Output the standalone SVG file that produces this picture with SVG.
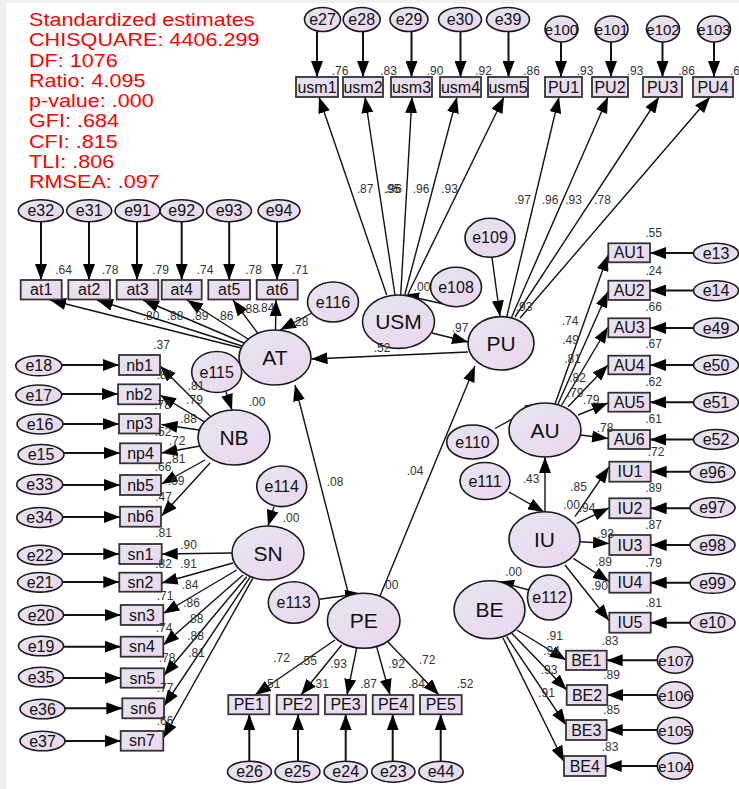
<svg xmlns="http://www.w3.org/2000/svg" width="739" height="789" viewBox="0 0 739 789">
<style>
text{font-family:"Liberation Sans",Arial,sans-serif;fill:#111}
.ob{fill:url(#g);stroke:#333;stroke-width:1.8}
.lv{fill:url(#g);stroke:#1a1a1a;stroke-width:1.6}
.tb{font-size:16px;text-anchor:middle}
.tl{font-size:21px;text-anchor:middle}
.te{font-size:16px;text-anchor:middle}
.ts{font-size:15px;text-anchor:middle}
.n{font-size:12px;text-anchor:middle;fill:#333}
.ce{stroke:#111;stroke-width:2;fill:none;marker-end:url(#ah)}
.cs{stroke:#111;stroke-width:1.4;fill:none;marker-end:url(#ah)}
.fit text{fill:#ff0000;font-size:18px}
</style>
<defs>
<linearGradient id="g" x1="0" y1="0" x2="1" y2="1">
<stop offset="0" stop-color="#e4e6ee"/>
<stop offset="1" stop-color="#edd5f1"/>
</linearGradient>
<marker id="ah" markerUnits="userSpaceOnUse" markerWidth="16" markerHeight="12" viewBox="0 0 16 12" refX="16" refY="6" orient="auto">
<path d="M0,0 L16,6 L0,12 z" fill="#000"/>
</marker>
</defs>
<rect x="0" y="0" width="739" height="789" fill="#efefef"/>
<rect x="6" y="3" width="733" height="786" fill="#ffffff"/>

<g class="fit" transform="translate(29,0) scale(1.2,1)">
<text x="0" y="26">Standardized estimates</text>
<text x="0" y="46.3">CHISQUARE: 4406.299</text>
<text x="0" y="66.6">DF: 1076</text>
<text x="0" y="86.9">Ratio: 4.095</text>
<text x="0" y="107.2">p-value: .000</text>
<text x="0" y="127.5">GFI: .684</text>
<text x="0" y="147.8">CFI: .815</text>
<text x="0" y="168.1">TLI: .806</text>
<text x="0" y="188.4">RMSEA: .097</text>
</g>

<g id="connectors">
<line class="ce" x1="317" y1="31.5" x2="317" y2="77"/>
<line class="ce" x1="363" y1="31.5" x2="363" y2="77"/>
<line class="ce" x1="411.5" y1="31.5" x2="411.5" y2="77"/>
<line class="ce" x1="460.5" y1="31.5" x2="460.5" y2="77"/>
<line class="ce" x1="508.5" y1="31.5" x2="508.5" y2="77"/>
<line class="ce" x1="561" y1="42" x2="561" y2="77"/>
<line class="ce" x1="611" y1="42" x2="611" y2="77"/>
<line class="ce" x1="662.5" y1="42" x2="662.5" y2="77"/>
<line class="ce" x1="714" y1="42" x2="714" y2="77"/>
<line class="ce" x1="41" y1="222" x2="41" y2="280"/>
<line class="ce" x1="89" y1="222" x2="89" y2="280"/>
<line class="ce" x1="137" y1="222" x2="137" y2="280"/>
<line class="ce" x1="181.7" y1="222" x2="181.7" y2="280"/>
<line class="ce" x1="229.2" y1="222" x2="229.2" y2="280"/>
<line class="ce" x1="277" y1="222" x2="277" y2="280"/>
<line class="ce" x1="62" y1="365" x2="119" y2="365"/>
<line class="ce" x1="62" y1="394" x2="118" y2="394"/>
<line class="ce" x1="63" y1="424" x2="119" y2="424"/>
<line class="ce" x1="64" y1="453" x2="120" y2="453"/>
<line class="ce" x1="62.5" y1="485" x2="120" y2="485"/>
<line class="ce" x1="62.5" y1="517" x2="120" y2="517"/>
<line class="ce" x1="62.5" y1="554" x2="119.3" y2="554"/>
<line class="ce" x1="62.5" y1="582" x2="119.3" y2="582"/>
<line class="ce" x1="63.5" y1="615" x2="120.7" y2="615"/>
<line class="ce" x1="63.5" y1="646.7" x2="120.7" y2="646.7"/>
<line class="ce" x1="63.5" y1="678" x2="120.7" y2="678"/>
<line class="ce" x1="65" y1="708.3" x2="122.3" y2="708.3"/>
<line class="ce" x1="65" y1="741" x2="120.7" y2="741"/>
<line class="ce" x1="249.3" y1="761.7" x2="249.3" y2="714.3"/>
<line class="ce" x1="298" y1="761.7" x2="298" y2="714.3"/>
<line class="ce" x1="345.7" y1="761.7" x2="345.7" y2="714.3"/>
<line class="ce" x1="392.7" y1="761.7" x2="392.7" y2="714.3"/>
<line class="ce" x1="440.7" y1="761.7" x2="440.7" y2="714.3"/>
<line class="ce" x1="693.5" y1="253" x2="650" y2="253"/>
<line class="ce" x1="693.5" y1="290.5" x2="650" y2="290.5"/>
<line class="ce" x1="693.5" y1="328" x2="650" y2="328"/>
<line class="ce" x1="693.5" y1="365" x2="650" y2="365"/>
<line class="ce" x1="693.5" y1="402.3" x2="650" y2="402.3"/>
<line class="ce" x1="693.5" y1="439.5" x2="650" y2="439.5"/>
<line class="ce" x1="690" y1="471.7" x2="650.7" y2="471.7"/>
<line class="ce" x1="690" y1="508.3" x2="650.7" y2="508.3"/>
<line class="ce" x1="690" y1="545" x2="650.7" y2="545"/>
<line class="ce" x1="690" y1="582.7" x2="650.7" y2="582.7"/>
<line class="ce" x1="690" y1="622.7" x2="650.7" y2="622.7"/>
<line class="ce" x1="657.3" y1="660.3" x2="606.7" y2="660.3"/>
<line class="ce" x1="657.3" y1="695" x2="607.3" y2="695"/>
<line class="ce" x1="657.3" y1="730" x2="606.7" y2="730"/>
<line class="ce" x1="657.3" y1="766" x2="605.7" y2="766"/>

<line class="cs" x1="386.7" y1="295" x2="319" y2="97"/>
<line class="cs" x1="395" y1="295" x2="365" y2="97"/>
<line class="cs" x1="400.7" y1="295" x2="412" y2="97"/>
<line class="cs" x1="405" y1="294" x2="457" y2="97"/>
<line class="cs" x1="408" y1="294" x2="504" y2="97"/>
<line class="cs" x1="506.7" y1="317" x2="559" y2="97"/>
<line class="cs" x1="511.7" y1="317" x2="608" y2="97"/>
<line class="cs" x1="515" y1="317" x2="659" y2="97"/>
<line class="cs" x1="520" y1="318" x2="710" y2="97"/>
<line class="cs" x1="453" y1="306" x2="403" y2="295"/>
<line class="cs" x1="492" y1="257.3" x2="500" y2="316.5"/>
<line class="cs" x1="432" y1="333" x2="468" y2="342"/>
<line class="cs" x1="468" y1="352" x2="311.5" y2="359"/>
<line class="cs" x1="312" y1="313" x2="280" y2="330"/>
<line class="cs" x1="241" y1="348" x2="50" y2="300"/>
<line class="cs" x1="242" y1="346" x2="97" y2="300"/>
<line class="cs" x1="244" y1="343" x2="143" y2="300"/>
<line class="cs" x1="248" y1="339" x2="187" y2="300"/>
<line class="cs" x1="257.6" y1="333" x2="233" y2="300"/>
<line class="cs" x1="275.5" y1="330" x2="276" y2="300"/>
<line class="cs" x1="226" y1="392" x2="232" y2="410"/>
<line class="cs" x1="210" y1="416" x2="160" y2="366"/>
<line class="cs" x1="204" y1="421.7" x2="160" y2="395"/>
<line class="cs" x1="199.3" y1="430" x2="161.5" y2="424.5"/>
<line class="cs" x1="200" y1="446" x2="161.5" y2="453"/>
<line class="cs" x1="205" y1="460" x2="161.5" y2="484"/>
<line class="cs" x1="210" y1="463" x2="161.5" y2="516"/>
<line class="cs" x1="274" y1="506.5" x2="268" y2="526"/>
<line class="cs" x1="232" y1="553" x2="161.7" y2="554"/>
<line class="cs" x1="233" y1="563" x2="161.7" y2="583"/>
<line class="cs" x1="236.7" y1="570" x2="163.3" y2="613.5"/>
<line class="cs" x1="243" y1="575" x2="163.3" y2="645"/>
<line class="cs" x1="246.7" y1="576.7" x2="164" y2="675.5"/>
<line class="cs" x1="250" y1="577.3" x2="164" y2="706"/>
<line class="cs" x1="253.3" y1="577.3" x2="163.3" y2="738"/>
<line class="cs" x1="349" y1="596" x2="295" y2="385"/>
<line class="cs" x1="380" y1="596" x2="475" y2="366"/>
<line class="cs" x1="319.3" y1="599.3" x2="361" y2="593.5"/>
<line class="cs" x1="335" y1="640" x2="255" y2="695"/>
<line class="cs" x1="341.7" y1="645" x2="301" y2="695"/>
<line class="cs" x1="356.7" y1="648" x2="347" y2="695"/>
<line class="cs" x1="376.7" y1="647" x2="390" y2="695"/>
<line class="cs" x1="388" y1="642" x2="439" y2="695"/>
<line class="cs" x1="495" y1="428.5" x2="541" y2="403"/>
<line class="cs" x1="555" y1="404" x2="608" y2="255"/>
<line class="cs" x1="558" y1="404" x2="608" y2="291.5"/>
<line class="cs" x1="561.7" y1="405" x2="608" y2="327"/>
<line class="cs" x1="568" y1="406.7" x2="608" y2="365"/>
<line class="cs" x1="578" y1="415" x2="608" y2="403"/>
<line class="cs" x1="580.5" y1="435" x2="608" y2="438.5"/>
<line class="cs" x1="509" y1="492" x2="544" y2="512"/>
<line class="cs" x1="545" y1="511.7" x2="545" y2="457"/>
<line class="cs" x1="575" y1="516.7" x2="609" y2="467"/>
<line class="cs" x1="576.7" y1="523.3" x2="609" y2="508"/>
<line class="cs" x1="580" y1="541.7" x2="609" y2="543.5"/>
<line class="cs" x1="573.3" y1="558.3" x2="609" y2="581.5"/>
<line class="cs" x1="565" y1="565" x2="609" y2="620.5"/>
<line class="cs" x1="529" y1="590" x2="498" y2="581.5"/>
<line class="cs" x1="516.7" y1="630" x2="566" y2="660"/>
<line class="cs" x1="511.7" y1="633.3" x2="566.7" y2="690"/>
<line class="cs" x1="506.7" y1="636.7" x2="566" y2="725"/>
<line class="cs" x1="503" y1="638" x2="564" y2="761.7"/>
</g>

<g id="e27"><ellipse class="lv" cx="322.5" cy="19.5" rx="18" ry="12"/><text class="te" x="322.5" y="25">e27</text></g>
<g id="e28"><ellipse class="lv" cx="361.7" cy="19.5" rx="18.5" ry="12"/><text class="te" x="361.7" y="25">e28</text></g>
<g id="e29"><ellipse class="lv" cx="409" cy="19.5" rx="19" ry="12"/><text class="te" x="409" y="25">e29</text></g>
<g id="e30"><ellipse class="lv" cx="460" cy="19.5" rx="21.5" ry="12"/><text class="te" x="460" y="25">e30</text></g>
<g id="e39"><ellipse class="lv" cx="508" cy="19.5" rx="21.5" ry="12"/><text class="te" x="508" y="25">e39</text></g>
<g id="e100"><ellipse class="lv" cx="561.5" cy="29" rx="16.5" ry="13"/><text class="ts" x="561.5" y="34.5">e100</text></g>
<g id="e101"><ellipse class="lv" cx="611.5" cy="29" rx="16.5" ry="13"/><text class="ts" x="611.5" y="34.5">e101</text></g>
<g id="e102"><ellipse class="lv" cx="663" cy="29" rx="16.5" ry="13"/><text class="ts" x="663" y="34.5">e102</text></g>
<g id="e103"><ellipse class="lv" cx="714" cy="29" rx="16.5" ry="13"/><text class="ts" x="714" y="34.5">e103</text></g>

<g id="usm1"><rect class="ob" x="296" y="77" width="42" height="20"/><text class="tb" x="317" y="92.5">usm1</text></g>
<g id="usm2"><rect class="ob" x="343" y="77" width="40" height="20"/><text class="tb" x="363" y="92.5">usm2</text></g>
<g id="usm3"><rect class="ob" x="391" y="77" width="41" height="20"/><text class="tb" x="411.5" y="92.5">usm3</text></g>
<g id="usm4"><rect class="ob" x="440" y="77" width="41" height="20"/><text class="tb" x="460.5" y="92.5">usm4</text></g>
<g id="usm5"><rect class="ob" x="488" y="77" width="40" height="20"/><text class="tb" x="508" y="92.5">usm5</text></g>
<g id="PU1"><rect class="ob" x="545" y="77" width="37" height="20"/><text class="tb" x="563.5" y="92.5">PU1</text></g>
<g id="PU2"><rect class="ob" x="592" y="77" width="36" height="20"/><text class="tb" x="610" y="92.5">PU2</text></g>
<g id="PU3"><rect class="ob" x="643" y="77" width="39" height="20"/><text class="tb" x="662.5" y="92.5">PU3</text></g>
<g id="PU4"><rect class="ob" x="693" y="77" width="40" height="20"/><text class="tb" x="713" y="92.5">PU4</text></g>

<g id="e32"><ellipse class="lv" cx="40.8" cy="210.8" rx="22.5" ry="11"/><text class="te" x="40.8" y="216.3">e32</text></g>
<g id="e31"><ellipse class="lv" cx="89.2" cy="210.8" rx="22.5" ry="11"/><text class="te" x="89.2" y="216.3">e31</text></g>
<g id="e91"><ellipse class="lv" cx="137.5" cy="210.8" rx="22.5" ry="11"/><text class="te" x="137.5" y="216.3">e91</text></g>
<g id="e92"><ellipse class="lv" cx="181.7" cy="210.8" rx="21.7" ry="11"/><text class="te" x="181.7" y="216.3">e92</text></g>
<g id="e93"><ellipse class="lv" cx="229" cy="210.8" rx="22.5" ry="11"/><text class="te" x="229" y="216.3">e93</text></g>
<g id="e94"><ellipse class="lv" cx="279" cy="210.8" rx="21" ry="11"/><text class="te" x="279" y="216.3">e94</text></g>

<g id="at1"><rect class="ob" x="20.7" y="280" width="41" height="19.5"/><text class="tb" x="41.2" y="295.3">at1</text></g>
<g id="at2"><rect class="ob" x="68.3" y="280" width="41.7" height="19.5"/><text class="tb" x="89.2" y="295.3">at2</text></g>
<g id="at3"><rect class="ob" x="116.7" y="280" width="41.6" height="19.5"/><text class="tb" x="137.5" y="295.3">at3</text></g>
<g id="at4"><rect class="ob" x="161.7" y="280" width="40" height="19.5"/><text class="tb" x="181.7" y="295.3">at4</text></g>
<g id="at5"><rect class="ob" x="208.3" y="280" width="41.7" height="19.5"/><text class="tb" x="229.2" y="295.3">at5</text></g>
<g id="at6"><rect class="ob" x="256.7" y="280" width="41" height="19.5"/><text class="tb" x="277.2" y="295.3">at6</text></g>

<g id="AT"><ellipse class="lv" cx="275" cy="357.5" rx="36" ry="27.5"/><text class="tl" x="275" y="365">AT</text></g>
<g id="e116"><ellipse class="lv" cx="333" cy="302" rx="25.5" ry="20"/><text class="te" x="333" y="307.5">e116</text></g>
<g id="USM"><ellipse class="lv" cx="398.5" cy="321.7" rx="36" ry="26.7"/><text class="tl" x="398.5" y="329.2">USM</text></g>
<g id="e108"><ellipse class="lv" cx="456" cy="287" rx="25.5" ry="19.7"/><text class="te" x="456" y="292.5">e108</text></g>
<g id="PU"><ellipse class="lv" cx="501" cy="343.3" rx="33" ry="26.7"/><text class="tl" x="501" y="350.8">PU</text></g>
<g id="e109"><ellipse class="lv" cx="490" cy="237.8" rx="25" ry="19.5"/><text class="te" x="490" y="243.3">e109</text></g>

<g id="e18"><ellipse class="lv" cx="38.8" cy="365.8" rx="23" ry="10"/><text class="te" x="38.8" y="371.3">e18</text></g>
<g id="e17"><ellipse class="lv" cx="38.8" cy="395" rx="23" ry="10"/><text class="te" x="38.8" y="400.5">e17</text></g>
<g id="e16"><ellipse class="lv" cx="40" cy="424" rx="23" ry="10"/><text class="te" x="40" y="429.5">e16</text></g>
<g id="e15"><ellipse class="lv" cx="41" cy="454.5" rx="23" ry="10"/><text class="te" x="41" y="460">e15</text></g>
<g id="e33"><ellipse class="lv" cx="39.7" cy="484.5" rx="23" ry="10"/><text class="te" x="39.7" y="490">e33</text></g>
<g id="e34"><ellipse class="lv" cx="39.7" cy="517.5" rx="23" ry="10"/><text class="te" x="39.7" y="523">e34</text></g>

<g id="nb1"><rect class="ob" x="119" y="355" width="41" height="20"/><text class="tb" x="139.5" y="370.5">nb1</text></g>
<g id="nb2"><rect class="ob" x="118" y="384.3" width="42" height="20"/><text class="tb" x="139" y="399.8">nb2</text></g>
<g id="np3"><rect class="ob" x="119" y="414" width="41" height="19.5"/><text class="tb" x="139.5" y="429.3">np3</text></g>
<g id="np4"><rect class="ob" x="120" y="443.3" width="41" height="20"/><text class="tb" x="140.5" y="458.8">np4</text></g>
<g id="nb5"><rect class="ob" x="120" y="475" width="41" height="20"/><text class="tb" x="140.5" y="490.5">nb5</text></g>
<g id="nb6"><rect class="ob" x="120" y="506.7" width="41" height="20"/><text class="tb" x="140.5" y="522.2">nb6</text></g>

<g id="e115"><ellipse class="lv" cx="216.7" cy="372" rx="25" ry="20.5"/><text class="te" x="216.7" y="377.5">e115</text></g>
<g id="NB"><ellipse class="lv" cx="234" cy="437.5" rx="36" ry="27.5"/><text class="tl" x="234" y="445">NB</text></g>
<g id="e114"><ellipse class="lv" cx="281.7" cy="486.3" rx="25" ry="20.3"/><text class="te" x="281.7" y="491.8">e114</text></g>
<g id="SN"><ellipse class="lv" cx="268" cy="553" rx="36" ry="27"/><text class="tl" x="268" y="560.5">SN</text></g>

<g id="e22"><ellipse class="lv" cx="40" cy="555" rx="22.5" ry="9.8"/><text class="te" x="40" y="560.5">e22</text></g>
<g id="e21"><ellipse class="lv" cx="40" cy="582.3" rx="22.5" ry="9.8"/><text class="te" x="40" y="587.8">e21</text></g>
<g id="e20"><ellipse class="lv" cx="41" cy="615" rx="22.5" ry="9.8"/><text class="te" x="41" y="620.5">e20</text></g>
<g id="e19"><ellipse class="lv" cx="41" cy="646" rx="22.5" ry="9.8"/><text class="te" x="41" y="651.5">e19</text></g>
<g id="e35"><ellipse class="lv" cx="41" cy="677" rx="22.5" ry="9.8"/><text class="te" x="41" y="682.5">e35</text></g>
<g id="e36"><ellipse class="lv" cx="42.5" cy="709" rx="22.5" ry="9.8"/><text class="te" x="42.5" y="714.5">e36</text></g>
<g id="e37"><ellipse class="lv" cx="42.5" cy="741" rx="22.5" ry="9.8"/><text class="te" x="42.5" y="746.5">e37</text></g>

<g id="sn1"><rect class="ob" x="119.3" y="544" width="42.4" height="20"/><text class="tb" x="140.5" y="559.5">sn1</text></g>
<g id="sn2"><rect class="ob" x="119.3" y="572.7" width="42.4" height="19"/><text class="tb" x="140.5" y="587.7">sn2</text></g>
<g id="sn3"><rect class="ob" x="120.7" y="605" width="42.6" height="20"/><text class="tb" x="142" y="620.5">sn3</text></g>
<g id="sn4"><rect class="ob" x="120.7" y="636.7" width="42.6" height="20"/><text class="tb" x="142" y="652.2">sn4</text></g>
<g id="sn5"><rect class="ob" x="120.7" y="668.3" width="43.3" height="19.4"/><text class="tb" x="142.3" y="683.5">sn5</text></g>
<g id="sn6"><rect class="ob" x="122.3" y="698.3" width="41.7" height="20"/><text class="tb" x="143.2" y="713.8">sn6</text></g>
<g id="sn7"><rect class="ob" x="120.7" y="731" width="42.6" height="19.7"/><text class="tb" x="142" y="746.3">sn7</text></g>

<g id="e113"><ellipse class="lv" cx="293.8" cy="602.5" rx="25.5" ry="20.8"/><text class="te" x="293.8" y="608">e113</text></g>
<g id="PE"><ellipse class="lv" cx="363.7" cy="620.8" rx="36.3" ry="27.5"/><text class="tl" x="363.7" y="628.3">PE</text></g>

<g id="PE1"><rect class="ob" x="228.3" y="695" width="41" height="19.3"/><text class="tb" x="248.8" y="710.2">PE1</text></g>
<g id="PE2"><rect class="ob" x="276.7" y="695" width="41.6" height="19.3"/><text class="tb" x="297.5" y="710.2">PE2</text></g>
<g id="PE3"><rect class="ob" x="325" y="695" width="41" height="19.3"/><text class="tb" x="345.5" y="710.2">PE3</text></g>
<g id="PE4"><rect class="ob" x="372.7" y="695" width="40.6" height="19.3"/><text class="tb" x="393" y="710.2">PE4</text></g>
<g id="PE5"><rect class="ob" x="420" y="695" width="41.7" height="19.3"/><text class="tb" x="440.8" y="710.2">PE5</text></g>

<g id="e26"><ellipse class="lv" cx="249.5" cy="771.7" rx="22" ry="10.5"/><text class="te" x="249.5" y="777.2">e26</text></g>
<g id="e25"><ellipse class="lv" cx="297.5" cy="771.7" rx="22.5" ry="10.5"/><text class="te" x="297.5" y="777.2">e25</text></g>
<g id="e24"><ellipse class="lv" cx="345.7" cy="771.7" rx="21.7" ry="10.5"/><text class="te" x="345.7" y="777.2">e24</text></g>
<g id="e23"><ellipse class="lv" cx="393.3" cy="771.7" rx="21.7" ry="10.5"/><text class="te" x="393.3" y="777.2">e23</text></g>
<g id="e44"><ellipse class="lv" cx="441" cy="771.7" rx="22.2" ry="10.5"/><text class="te" x="441" y="777.2">e44</text></g>

<g id="e110"><ellipse class="lv" cx="472.5" cy="442" rx="25.8" ry="17"/><text class="te" x="472.5" y="447.5">e110</text></g>
<g id="AU"><ellipse class="lv" cx="545" cy="430" rx="36" ry="27"/><text class="tl" x="545" y="437.5">AU</text></g>
<g id="e111"><ellipse class="lv" cx="485" cy="481" rx="25" ry="18.5"/><text class="te" x="485" y="486.5">e111</text></g>
<g id="IU"><ellipse class="lv" cx="544.5" cy="539.5" rx="35.5" ry="27.8"/><text class="tl" x="544.5" y="547">IU</text></g>
<g id="BE"><ellipse class="lv" cx="489.5" cy="609.8" rx="35.5" ry="29"/><text class="tl" x="489.5" y="617.3">BE</text></g>
<g id="e112"><ellipse class="lv" cx="549.5" cy="597.5" rx="22" ry="22.5"/><text class="te" x="549.5" y="603">e112</text></g>

<g id="AU1"><rect class="ob" x="608.3" y="243.3" width="41.7" height="19"/><text class="tb" x="629.2" y="258.3">AU1</text></g>
<g id="AU2"><rect class="ob" x="608.3" y="280.7" width="41.7" height="19.3"/><text class="tb" x="629.2" y="295.8">AU2</text></g>
<g id="AU3"><rect class="ob" x="608.3" y="318.3" width="41.7" height="19"/><text class="tb" x="629.2" y="333.3">AU3</text></g>
<g id="AU4"><rect class="ob" x="608.3" y="355.7" width="41.7" height="18.6"/><text class="tb" x="629.2" y="370.5">AU4</text></g>
<g id="AU5"><rect class="ob" x="608.3" y="392.7" width="41.7" height="19"/><text class="tb" x="629.2" y="407.7">AU5</text></g>
<g id="AU6"><rect class="ob" x="608.3" y="430" width="41.7" height="19"/><text class="tb" x="629.2" y="445">AU6</text></g>

<g id="e13"><ellipse class="lv" cx="716" cy="253.3" rx="22.5" ry="10"/><text class="te" x="716" y="258.8">e13</text></g>
<g id="e14"><ellipse class="lv" cx="716" cy="290.7" rx="22.5" ry="10"/><text class="te" x="716" y="296.2">e14</text></g>
<g id="e49"><ellipse class="lv" cx="716" cy="328" rx="22.5" ry="10"/><text class="te" x="716" y="333.5">e49</text></g>
<g id="e50"><ellipse class="lv" cx="716" cy="365" rx="22.5" ry="10"/><text class="te" x="716" y="370.5">e50</text></g>
<g id="e51"><ellipse class="lv" cx="716" cy="402.5" rx="22.5" ry="10"/><text class="te" x="716" y="408">e51</text></g>
<g id="e52"><ellipse class="lv" cx="716" cy="439.5" rx="22.5" ry="10"/><text class="te" x="716" y="445">e52</text></g>

<g id="IU1"><rect class="ob" x="609.3" y="461.7" width="41.4" height="20"/><text class="tb" x="630" y="477.2">IU1</text></g>
<g id="IU2"><rect class="ob" x="609.3" y="498.3" width="41.4" height="20"/><text class="tb" x="630" y="513.8">IU2</text></g>
<g id="IU3"><rect class="ob" x="609.3" y="535" width="41.4" height="20"/><text class="tb" x="630" y="550.5">IU3</text></g>
<g id="IU4"><rect class="ob" x="609.3" y="572.7" width="41.4" height="20"/><text class="tb" x="630" y="588.2">IU4</text></g>
<g id="IU5"><rect class="ob" x="609.3" y="612.7" width="41.4" height="20"/><text class="tb" x="630" y="628.2">IU5</text></g>

<g id="e96"><ellipse class="lv" cx="712.5" cy="472.5" rx="22.5" ry="10"/><text class="te" x="712.5" y="478">e96</text></g>
<g id="e97"><ellipse class="lv" cx="712.5" cy="507.8" rx="22.5" ry="10"/><text class="te" x="712.5" y="513.3">e97</text></g>
<g id="e98"><ellipse class="lv" cx="712.5" cy="545" rx="22.5" ry="10"/><text class="te" x="712.5" y="550.5">e98</text></g>
<g id="e99"><ellipse class="lv" cx="712.5" cy="583.3" rx="22.5" ry="10"/><text class="te" x="712.5" y="588.8">e99</text></g>
<g id="e10"><ellipse class="lv" cx="712.5" cy="622.7" rx="22.5" ry="10"/><text class="te" x="712.5" y="628.2">e10</text></g>

<g id="BE1"><rect class="ob" x="566" y="650.7" width="40.7" height="19.3"/><text class="tb" x="586.3" y="665.8">BE1</text></g>
<g id="BE2"><rect class="ob" x="566.7" y="685" width="40.6" height="20"/><text class="tb" x="587" y="700.5">BE2</text></g>
<g id="BE3"><rect class="ob" x="566" y="720" width="40.7" height="20"/><text class="tb" x="586.3" y="735.5">BE3</text></g>
<g id="BE4"><rect class="ob" x="564" y="756" width="41.7" height="20"/><text class="tb" x="584.8" y="771.5">BE4</text></g>

<g id="e107"><ellipse class="lv" cx="675" cy="660" rx="17.7" ry="13.3"/><text class="ts" x="675" y="665.5">e107</text></g>
<g id="e106"><ellipse class="lv" cx="675" cy="695" rx="17.7" ry="13.3"/><text class="ts" x="675" y="700.5">e106</text></g>
<g id="e105"><ellipse class="lv" cx="675" cy="730.5" rx="17.7" ry="13.3"/><text class="ts" x="675" y="736">e105</text></g>
<g id="e104"><ellipse class="lv" cx="675" cy="766" rx="17.7" ry="13.3"/><text class="ts" x="675" y="771.5">e104</text></g>

<g id="estimates">
<text class="n" x="340" y="75">.76</text>
<text class="n" x="388.5" y="75">.83</text>
<text class="n" x="435" y="75">.90</text>
<text class="n" x="483.5" y="75">.92</text>
<text class="n" x="531.5" y="75">.86</text>
<text class="n" x="585" y="75">.93</text>
<text class="n" x="635" y="75">.93</text>
<text class="n" x="686.5" y="75">.86</text>
<text class="n" x="730" y="75" style="text-anchor:start">.6</text>
<text class="n" x="365" y="193">.87</text>
<text class="n" x="392" y="193">.95</text>
<text class="n" x="393.5" y="193">.96</text>
<text class="n" x="421" y="193">.96</text>
<text class="n" x="449.5" y="193">.93</text>
<text class="n" x="522.5" y="204">.97</text>
<text class="n" x="550" y="204">.96</text>
<text class="n" x="573.5" y="204">.93</text>
<text class="n" x="602.5" y="204">.78</text>
<text class="n" x="524" y="311">.93</text>
<text class="n" x="63.5" y="274">.64</text>
<text class="n" x="110" y="274">.78</text>
<text class="n" x="160.5" y="274">.79</text>
<text class="n" x="205" y="274">.74</text>
<text class="n" x="253.5" y="274">.78</text>
<text class="n" x="300" y="274">.71</text>
<text class="n" x="151" y="320">.80</text>
<text class="n" x="175" y="320">.88</text>
<text class="n" x="200" y="320">.89</text>
<text class="n" x="225" y="320">.86</text>
<text class="n" x="250.5" y="313">.88</text>
<text class="n" x="266" y="312">.84</text>
<text class="n" x="300" y="325.7">.28</text>
<text class="n" x="382" y="352">.52</text>
<text class="n" x="460" y="331.7">.97</text>
<text class="n" x="422" y="291">.00</text>
<text class="n" x="161.5" y="349">.37</text>
<text class="n" x="165" y="379">.81</text>
<text class="n" x="196" y="390">.81</text>
<text class="n" x="194.5" y="404">.79</text>
<text class="n" x="162.5" y="409">.78</text>
<text class="n" x="188.5" y="423">.88</text>
<text class="n" x="163" y="435.5">.52</text>
<text class="n" x="177" y="445">.72</text>
<text class="n" x="177" y="463">.81</text>
<text class="n" x="163" y="471">.66</text>
<text class="n" x="176" y="485">.69</text>
<text class="n" x="163.5" y="500.7">.47</text>
<text class="n" x="257" y="406">.00</text>
<text class="n" x="291" y="522">.00</text>
<text class="n" x="163.5" y="537">.81</text>
<text class="n" x="188.5" y="549">.90</text>
<text class="n" x="163.5" y="568">.82</text>
<text class="n" x="188.5" y="568.3">.91</text>
<text class="n" x="190" y="589">.84</text>
<text class="n" x="165" y="600">.71</text>
<text class="n" x="191.5" y="606.7">.86</text>
<text class="n" x="164" y="631.7">.74</text>
<text class="n" x="195" y="623">.88</text>
<text class="n" x="195.5" y="640">.88</text>
<text class="n" x="167" y="661.7">.78</text>
<text class="n" x="196.5" y="657">.81</text>
<text class="n" x="165" y="691.7">.77</text>
<text class="n" x="165" y="725">.66</text>
<text class="n" x="335" y="486">.08</text>
<text class="n" x="415" y="475">.04</text>
<text class="n" x="390" y="589">.00</text>
<text class="n" x="281.5" y="661.7">.72</text>
<text class="n" x="308.5" y="665">.55</text>
<text class="n" x="338.5" y="668">.93</text>
<text class="n" x="396.5" y="668">.92</text>
<text class="n" x="427" y="664">.72</text>
<text class="n" x="272" y="688">.51</text>
<text class="n" x="320.5" y="688">.31</text>
<text class="n" x="368.5" y="688">.87</text>
<text class="n" x="416.5" y="688">.84</text>
<text class="n" x="465" y="688">.52</text>
<text class="n" x="653.5" y="236.7">.55</text>
<text class="n" x="653.5" y="274.7">.24</text>
<text class="n" x="653.5" y="311.3">.66</text>
<text class="n" x="653.5" y="348.3">.67</text>
<text class="n" x="653.5" y="385.7">.62</text>
<text class="n" x="653.5" y="423">.61</text>
<text class="n" x="656" y="455.7">.72</text>
<text class="n" x="570" y="325">.74</text>
<text class="n" x="570.5" y="344">.49</text>
<text class="n" x="572.5" y="363">.81</text>
<text class="n" x="577.5" y="382">.82</text>
<text class="n" x="575" y="397">.79</text>
<text class="n" x="591" y="404">.79</text>
<text class="n" x="605" y="431.7">.78</text>
<text class="n" x="531" y="483">.43</text>
<text class="n" x="578.5" y="491.3">.85</text>
<text class="n" x="653.5" y="492.3">.89</text>
<text class="n" x="571.5" y="509">.00</text>
<text class="n" x="587" y="511.7">.94</text>
<text class="n" x="653.5" y="529">.87</text>
<text class="n" x="605.5" y="538">.93</text>
<text class="n" x="603.5" y="566">.89</text>
<text class="n" x="653.5" y="566.7">.79</text>
<text class="n" x="599.5" y="590">.90</text>
<text class="n" x="653.5" y="606.7">.81</text>
<text class="n" x="513.5" y="576">.00</text>
<text class="n" x="554.5" y="640">.91</text>
<text class="n" x="610" y="645">.83</text>
<text class="n" x="551.5" y="654.7">.94</text>
<text class="n" x="611.5" y="679">.89</text>
<text class="n" x="549" y="674">.93</text>
<text class="n" x="546.5" y="697">.91</text>
<text class="n" x="611.5" y="714">.85</text>
<text class="n" x="610" y="750.7">.83</text>
</g>
</svg>
